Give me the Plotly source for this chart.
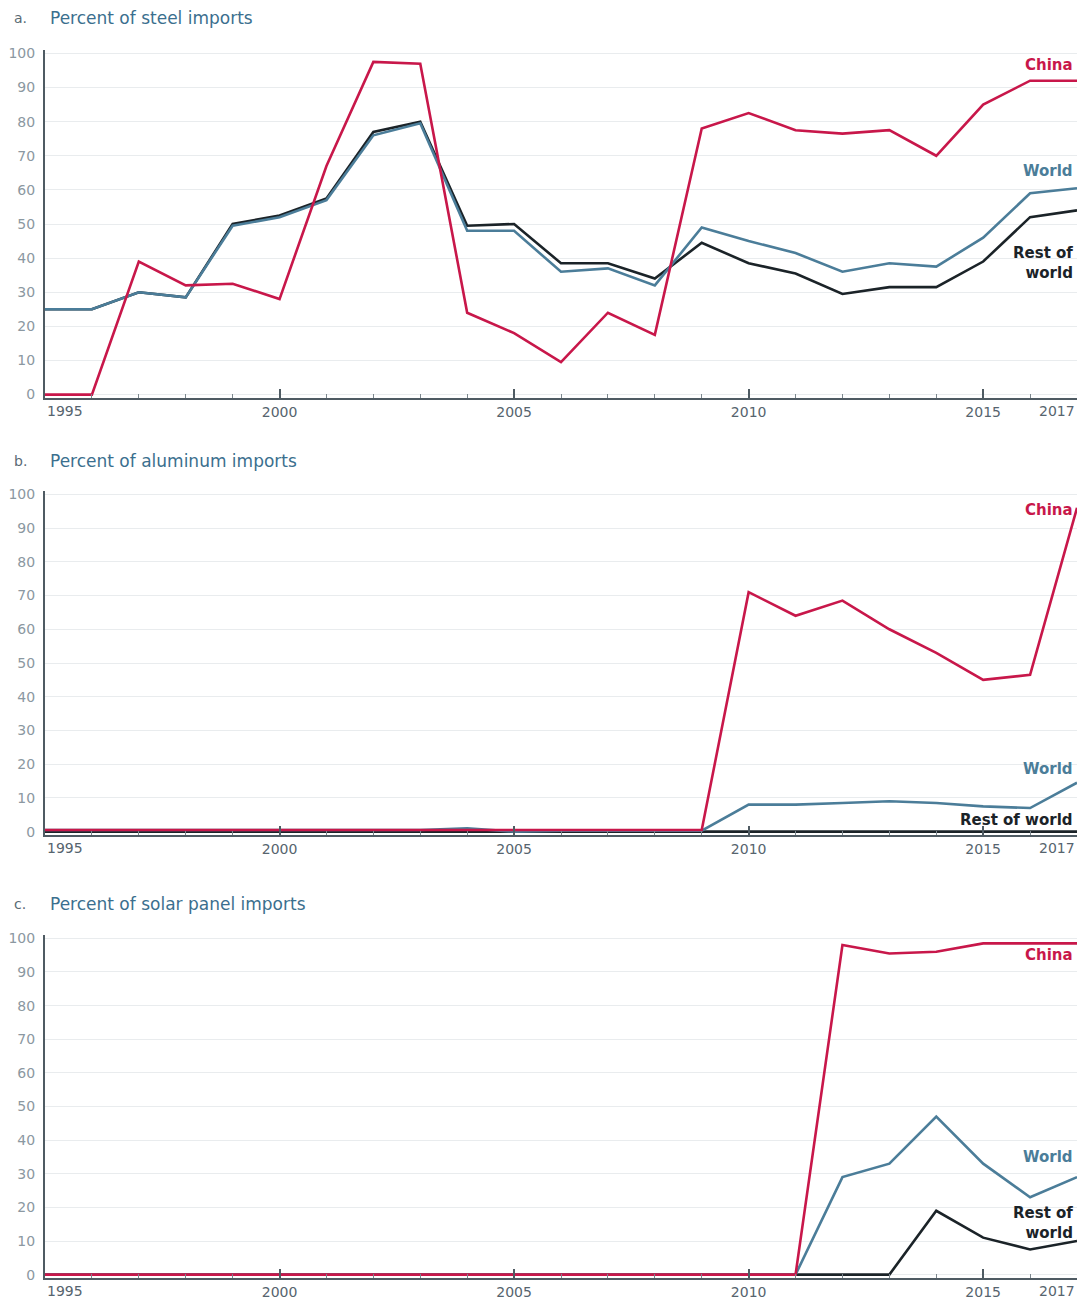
import plotly.graph_objects as go
from plotly.subplots import make_subplots

years = list(range(1995, 2018))

steel_china = [0, 0, 39, 32, 32.5, 28, 67, 97.5, 97, 24, 18, 9.5, 24, 17.5, 78, 82.5, 77.5, 76.5, 77.5, 70, 85, 92, 92]
steel_world = [25, 25, 30, 28.5, 49.5, 52, 57, 76, 79.5, 48, 48, 36, 37, 32, 49, 45, 41.5, 36, 38.5, 37.5, 46, 59, 60.5]
steel_rest = [25, 25, 30, 28.5, 50, 52.5, 57.5, 77, 80, 49.5, 50, 38.5, 38.5, 34, 44.5, 38.5, 35.5, 29.5, 31.5, 31.5, 39, 52, 54]

alu_china = [0.5, 0.5, 0.5, 0.5, 0.5, 0.5, 0.5, 0.5, 0.5, 0.5, 0.5, 0.5, 0.5, 0.5, 0.5, 71, 64, 68.5, 60, 53, 45, 46.5, 96]
alu_world = [0.5, 0.5, 0.5, 0.5, 0.5, 0.5, 0.5, 0.5, 0.5, 1, 0, 0.3, 0.3, 0.3, 0.3, 8, 8, 8.5, 9, 8.5, 7.5, 7, 14.5]
alu_rest = [0] * 23

solar_china = [0, 0, 0, 0, 0, 0, 0, 0, 0, 0, 0, 0, 0, 0, 0, 0, 0, 98, 95.5, 96, 98.5, 98.5, 98.5]
solar_world = [0, 0, 0, 0, 0, 0, 0, 0, 0, 0, 0, 0, 0, 0, 0, 0, 0, 29, 33, 47, 33, 23, 29]
solar_rest = [0, 0, 0, 0, 0, 0, 0, 0, 0, 0, 0, 0, 0, 0, 0, 0, 0, 0, 0, 19, 11, 7.5, 10]

panel_letters = ["a.", "b.", "c."]
panel_titles = ["Percent of steel imports", "Percent of aluminum imports", "Percent of solar panel imports"]
x_tickvals = [1995, 2000, 2005, 2010, 2015, 2017]
y_tickvals = list(range(0, 101, 10))

C_CHINA = "#c8174a"
C_WORLD = "#4b7d99"
C_REST = "#1b2328"
C_TITLE = "#3b6f8e"
FONT = "DejaVu Sans, sans-serif"

W, H = 1083, 1307
ML, MR = 45, 6
PW = W - ML - MR

def dom(top_px, bottom_px):
    return [1 - bottom_px / H, 1 - top_px / H]

domains = [dom(50, 398), dom(491, 835), dom(935, 1278)]

fig = make_subplots(rows=3, cols=1)

series = [
    (steel_china, steel_world, steel_rest),
    (alu_china, alu_world, alu_rest),
    (solar_china, solar_world, solar_rest),
]

for i, (ch, wo, re) in enumerate(series):
    r = i + 1
    fig.add_trace(go.Scatter(x=years, y=re, mode="lines", line=dict(color=C_REST, width=2.6), showlegend=False), row=r, col=1)
    fig.add_trace(go.Scatter(x=years, y=wo, mode="lines", line=dict(color=C_WORLD, width=2.6), showlegend=False), row=r, col=1)
    fig.add_trace(go.Scatter(x=years, y=ch, mode="lines", line=dict(color=C_CHINA, width=2.6), showlegend=False), row=r, col=1)

x_ticktext = ["" if v in (1995, 2017) else str(v) for v in x_tickvals]
XT_COLOR = "#56646e"
XT_SIZE = 14

for i in range(3):
    xa = "xaxis" if i == 0 else f"xaxis{i+1}"
    ya = "yaxis" if i == 0 else f"yaxis{i+1}"
    fig.layout[xa].update(
        domain=[0, 1], range=[1995, 2017], tickvals=x_tickvals, ticktext=x_ticktext, automargin=False,
        showgrid=False, zeroline=False, showline=True, linecolor="#4f5b63", linewidth=2,
        ticks="inside", ticklen=9, tickwidth=1.5, tickcolor="#4f5b63",
        minor=dict(dtick=1, ticks="inside", ticklen=4, tickcolor="#7b868d", tickwidth=1),
        tickfont=dict(family=FONT, size=XT_SIZE, color=XT_COLOR),
    )
    fig.layout[ya].update(
        domain=domains[i], range=[-1, 101], tickvals=y_tickvals, automargin=False,
        showgrid=True, gridcolor="#e9ecee", gridwidth=1, zeroline=False,
        showline=True, linecolor="#4f5b63", linewidth=2, ticklabelstandoff=5,
        ticks="", tickfont=dict(family=FONT, size=14, color="#8b98a1"),
    )

annotations = []
title_y_px = [18, 461, 904]
for i in range(3):
    yv = 1 - title_y_px[i] / H
    annotations.append(dict(text=panel_letters[i], xref="paper", yref="paper", x=(12 - ML) / PW, y=yv,
                            xanchor="left", yanchor="middle", showarrow=False,
                            font=dict(family=FONT, size=14, color="#5a6a74")))
    annotations.append(dict(text=panel_titles[i], xref="paper", yref="paper", x=(48 - ML) / PW, y=yv,
                            xanchor="left", yanchor="middle", showarrow=False,
                            font=dict(family=FONT, size=17, color=C_TITLE)))

for i in range(3):
    xr = "x" if i == 0 else f"x{i+1}"
    yr = "y" if i == 0 else f"y{i+1}"
    annotations.append(dict(text="1995", xref=xr, yref=yr, x=1995, y=-1, xanchor="left", yanchor="top",
                            yshift=-3, showarrow=False, font=dict(family=FONT, size=XT_SIZE, color=XT_COLOR)))
    annotations.append(dict(text="2017", xref=xr, yref=yr, x=2017, y=-1, xanchor="right", yanchor="top",
                            yshift=-3, showarrow=False, font=dict(family=FONT, size=XT_SIZE, color=XT_COLOR)))

label_pos = [
    [("China", 96.5, C_CHINA), ("World", 65.5, C_WORLD), ("Rest of<br>world", 38.5, C_REST)],
    [("China", 95.5, C_CHINA), ("World", 18.5, C_WORLD), ("Rest of world", 3.3, C_REST)],
    [("China", 95, C_CHINA), ("World", 35, C_WORLD), ("Rest of<br>world", 15.5, C_REST)],
]
for i, labs in enumerate(label_pos):
    xr = "x" if i == 0 else f"x{i+1}"
    yr = "y" if i == 0 else f"y{i+1}"
    for txt, yv, col in labs:
        annotations.append(dict(text=f"<b>{txt}</b>", xref=xr, yref=yr, x=2017, y=yv, xanchor="right",
                                yanchor="middle", align="right", xshift=-2, showarrow=False,
                                font=dict(family=FONT, size=15, color=col)))

fig.update_layout(
    width=W, height=H, margin=dict(l=ML, r=MR, t=0, b=0),
    paper_bgcolor="white", plot_bgcolor="white", annotations=annotations,
)

fig.write_html("out.html", config={"displayModeBar": False},
               post_script="document.body.style.margin='0';document.body.style.overflow='hidden';")
